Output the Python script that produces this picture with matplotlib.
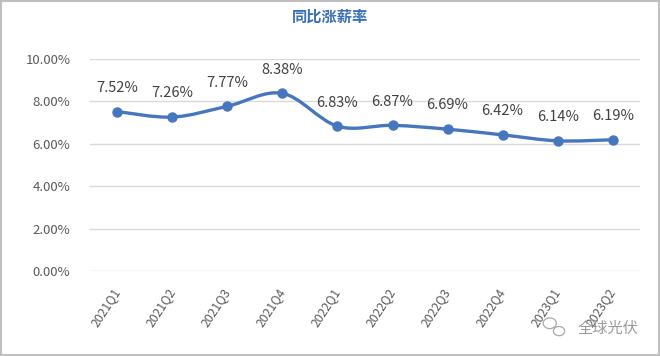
import matplotlib.pyplot as plt
from matplotlib.path import Path
from matplotlib.patches import PathPatch, Rectangle, Ellipse
import numpy as np

plt.rcParams['font.family'] = ['Noto Sans CJK SC', 'DejaVu Sans']

# data
quarters = ['2021Q1', '2021Q2', '2021Q3', '2021Q4', '2022Q1',
            '2022Q2', '2022Q3', '2022Q4', '2023Q1', '2023Q2']
raise_rate = [7.52, 7.26, 7.77, 8.38, 6.83, 6.87, 6.69, 6.42, 6.14, 6.19]
y_ticks = [0, 2, 4, 6, 8, 10]

line_color = '#4677BE'
text_color = '#595959'

fig = plt.figure(figsize=(6.6, 3.56), dpi=100)
ax = fig.add_axes([0.136, 0.2388, 0.834, 0.5955])

x = np.arange(len(quarters))
y = np.array(raise_rate)

# smooth line like excel (bezier segments between points)
pts = np.column_stack([x, y])
verts = [pts[0]]
codes = [Path.MOVETO]
n = len(pts)
for i in range(n - 1):
    p0 = pts[i - 1] if i > 0 else pts[i]
    p1 = pts[i]
    p2 = pts[i + 1]
    p3 = pts[i + 2] if i + 2 < n else pts[i + 1]
    c1 = p1 + (p2 - p0) / 6
    c2 = p2 - (p3 - p1) / 6
    verts += [c1, c2, p2]
    codes += [Path.CURVE4] * 3
ax.add_patch(PathPatch(Path(verts, codes), facecolor='none',
                       edgecolor=line_color, lw=2.4, zorder=3,
                       capstyle='round', joinstyle='round'))
ax.plot(x, y, 'o', color=line_color, ms=6.5, zorder=4)

for xi, yi in zip(x, y):
    ax.annotate(f'{yi:.2f}%', (xi, yi), xytext=(0, 12), textcoords='offset points',
                ha='center', va='bottom', fontsize=10.5, color='#404040')

ax.set_xlim(-0.5, len(quarters) - 0.5)
ax.set_ylim(0, 10)
ax.set_yticks(y_ticks)
ax.set_yticklabels([f'{v:.2f}%' for v in y_ticks], fontsize=9.5, color=text_color)
ax.set_xticks(x)
ax.set_xticklabels(quarters, rotation=57, ha='right', va='center',
                   rotation_mode='anchor', fontsize=8.8, color=text_color)
ax.tick_params(length=0)
ax.tick_params(axis='y', pad=14)
ax.tick_params(axis='x', pad=13)
ax.grid(axis='y', color='#D9D9D9', lw=1)
ax.set_axisbelow(True)
for s in ax.spines.values():
    s.set_visible(False)

fig.text(0.5, 0.953, '同比涨薪率', ha='center', va='center', fontsize=11,
         color='#3A6FB5', fontweight='bold')

# watermark
fig.text(0.967, 0.077, '全球光伏', ha='right', va='center', fontsize=11,
         color='#9A9A9A')
fig.patches.append(Ellipse((0.833, 0.092), 0.020, 0.030, transform=fig.transFigure,
                           fill=False, edgecolor='#A8A8A8', lw=0.9))
fig.patches.append(Ellipse((0.847, 0.070), 0.017, 0.026, transform=fig.transFigure,
                           fill=False, edgecolor='#A8A8A8', lw=0.9))

fig.patches.append(Rectangle((0.002, 0.003), 0.996, 0.994, transform=fig.transFigure,
                             fill=False, edgecolor='#BFBFBF', lw=1.5))

fig.savefig('out.png', dpi=100)
